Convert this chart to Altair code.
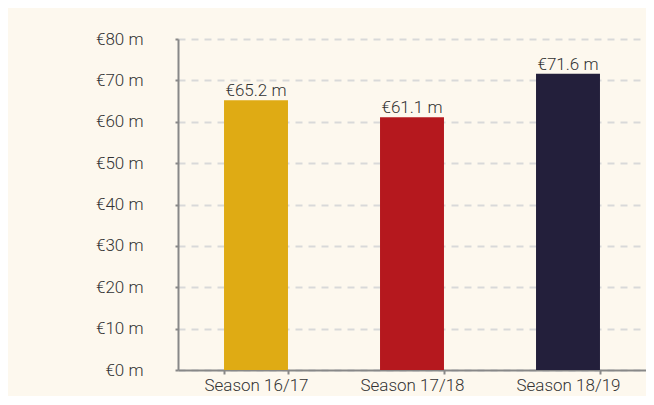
import altair as alt
import pandas as pd

seasons = ["Season 16/17", "Season 17/18", "Season 18/19"]
values = [65.2, 61.1, 71.6]
colors = ["#DFAB14", "#B5181E", "#231F3B"]
labels = ["€65.2 m", "€61.1 m", "€71.6 m"]

df = pd.DataFrame({"season": seasons, "value": values, "label": labels})

FONT = "Roboto"
FW = 300
FS = 17

x = alt.X("season:N", sort=seasons, title=None,
          scale=alt.Scale(paddingInner=0.59, paddingOuter=0.295),
          axis=alt.Axis(labelAngle=0, tickBand="extent", domainColor="#888888",
                        domainWidth=2, tickColor="#888888", tickWidth=2, tickSize=4,
                        labelFontSize=FS, labelColor="#333333", labelPadding=3,
                        labelFont=FONT, labelFontWeight=FW, grid=False))
y = alt.Y("value:Q", title=None,
          scale=alt.Scale(domain=[0, 80], nice=False),
          axis=alt.Axis(values=[0, 10, 20, 30, 40, 50, 60, 70, 80],
                        labelExpr="'€' + datum.value + ' m'",
                        domainColor="#888888", domainWidth=2,
                        tickColor="#888888", tickWidth=2, tickSize=3,
                        labelFontSize=FS, labelColor="#333333", labelPadding=32,
                        labelFont=FONT, labelFontWeight=FW,
                        grid=True, gridColor="#d9d9d9", gridWidth=2, gridDash=[7, 6]))

bars = alt.Chart(df).mark_bar().encode(
    x=x, y=y,
    color=alt.Color("season:N", scale=alt.Scale(domain=seasons, range=colors), legend=None),
)
text = alt.Chart(df).mark_text(baseline="bottom", dy=0, fontSize=FS, font=FONT,
                               fontWeight=FW, color="#333333").encode(
    x=alt.X("season:N", sort=seasons),
    y="value:Q",
    text="label:N",
)

chart = (bars + text).properties(
    width=468, height=331,
    background="#FDF8EE",
    padding={"left": 170, "top": 31, "right": 0, "bottom": 26},
    autosize=alt.AutoSizeParams(type="none"),
).configure_view(stroke=None)

chart.save("out.html", embed_options={"renderer": "svg", "actions": False})
